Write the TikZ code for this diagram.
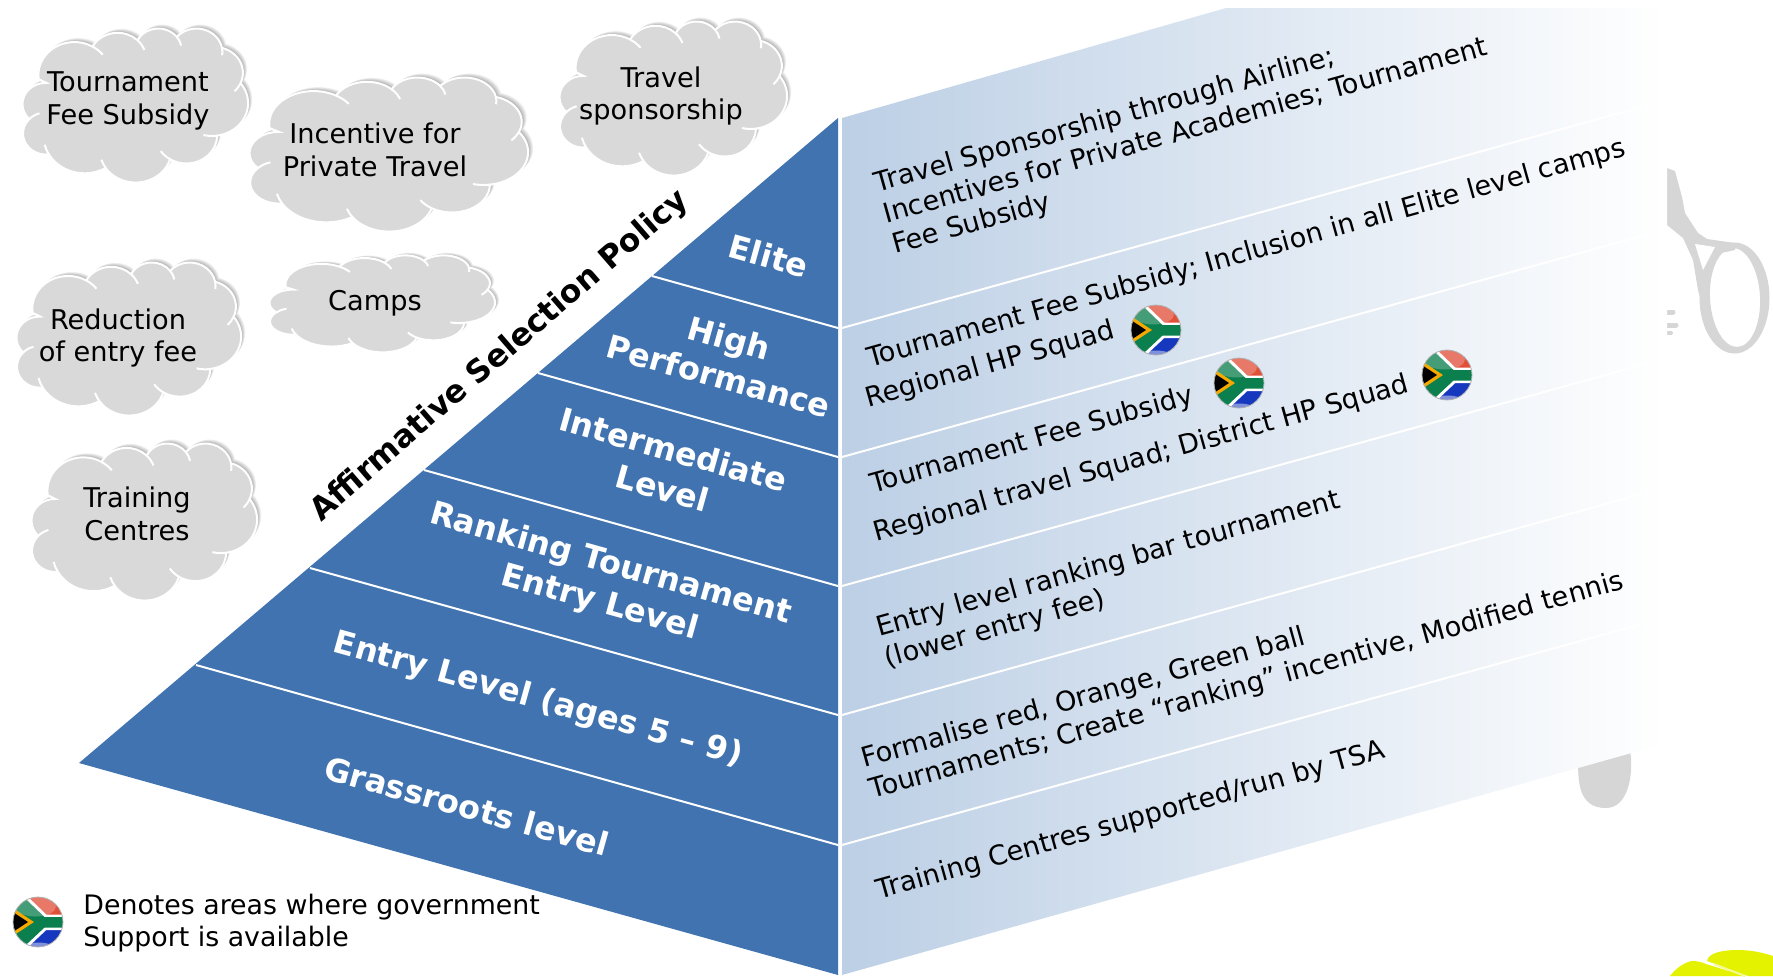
\documentclass[tikz,border=0pt]{standalone}
\usepackage{fontspec}
\setmainfont{DejaVu Sans}
\definecolor{pyr}{HTML}{4073B0}
\definecolor{panelL}{HTML}{BCCFE5}
\definecolor{panelM}{HTML}{E3EBF5}
\definecolor{cloudg}{HTML}{D9D9D9}
\definecolor{rack}{HTML}{D6D6D6}
\definecolor{ballY}{HTML}{E4F200}
\definecolor{fgreen}{HTML}{0B7F4E}
\definecolor{fred}{HTML}{E2503A}
\definecolor{fblue}{HTML}{1638BE}
\definecolor{fgold}{HTML}{F5A800}
\newcommand\mkarc[6]{% name, w,h, start, sweep, extension
  \pgfmathsetmacro\ts{atan2(#2*sin(#4),#3*cos(#4))}%
  \pgfmathsetmacro\te{atan2(#2*sin(#4+#5),#3*cos(#4+#5))}%
  \pgfmathsetmacro\td{mod(\te-\ts+720,360)}%
  \edef\tmp{\noexpand\tikzset{c#1/.style={start angle=\ts,delta angle=\td,x radius=#2pt,y radius=#3pt},
     x#1/.style={start angle=\te,delta angle=#6,x radius=#2pt,y radius=#3pt}}}\tmp}
\mkarc{A}{67.53}{91.90}{-190.487}{123.781}{22}
\mkarc{B}{53.33}{72.67}{-144.102}{89.945}{26}
\mkarc{C}{43.65}{59.45}{-145.808}{99.723}{26}
\mkarc{D}{48.57}{65.95}{-130.986}{117.242}{18}
\mkarc{E}{53.33}{72.73}{-78.709}{109.027}{22}
\mkarc{F}{67.75}{92.20}{-46.267}{130.269}{22}
\mkarc{G}{57.85}{78.67}{0.625}{114.033}{24}
\mkarc{H}{67.52}{92.15}{22.452}{115.173}{16}
\mkarc{I}{77.20}{105.43}{66.243}{75.711}{16}
\mkarc{J}{43.60}{59.18}{-274.942}{146.736}{30}
\newcommand\cloudshape{(39pt,143.7pt) arc[cA] coordinate(jA) arc[cB] coordinate(jB) arc[cC] coordinate(jC) arc[cD] coordinate(jD) arc[cE] coordinate(jE) arc[cF] coordinate(jF) arc[cG] coordinate(jG) arc[cH] coordinate(jH) arc[cI] coordinate(jI) arc[cJ] coordinate(jJ) arc[start angle=-225,delta angle=137,x radius=43.45pt,y radius=59.45pt] -- cycle}
\tikzset{
  cloudtext/.style={align=center,font=\fontsize{13.6}{16.4}\selectfont,text=black,inner sep=0pt},
  tiertext/.style={align=center,font=\fontsize{16}{20}\selectfont\bfseries,text=white,rotate=-15.6,inner sep=0pt},
  paneltext/.style={align=left,anchor=west,font=\fontsize{13.6}{16}\selectfont,text=black,rotate=15.6,inner sep=0pt},
  tierline/.style={draw=white,line width=1pt},
}
\newcommand\pptcloud[8]{% name,x0,y0,x1,y1,textx,texty,text
  \begin{scope}[shift={(#2,#3)},xscale={(#4-#2)*0.5/432},yscale={-(#5-#3)*0.5/432}]
    \foreach \o in {7,6,5,4,3,2,1}{\fill[black,opacity=.05,shift={(\o pt*1.1,-\o pt*1.6)}] \cloudshape;}
    \path[fill=cloudg,draw=white,line width=1pt] \cloudshape;
    \draw[white,line width=1pt] (jA) arc[xA] (jB) arc[xB] (jC) arc[xC] (jD) arc[xD] (jE) arc[xE] (jF) arc[xF] (jG) arc[xG] (jH) arc[xH] (jI) arc[xI] (jJ) arc[xJ];
  \end{scope}
  \node[cloudtext] (#1) at (#6,#7) {#8};
}
\newcommand\saflag[2]{%
  \begin{scope}[shift={(#1,#2)},x=12.5pt,y=-12.5pt]
    \begin{scope}
      \clip (0,0) circle (1);
      \fill[fred] (-1.1,-1.1) rectangle (1.1,0);
      \fill[fblue] (-1.1,0) rectangle (1.1,1.1);
      \fill[white] (-.5,-1.1) -- (.33,-.3) -- (1.1,-.3) -- (1.1,.32) -- (.33,.32) -- (-.5,1.1) -- (-1.1,1.1) -- (-1.1,-1.1) -- cycle;
      \fill[fgreen] (-.68,-1.1) -- (.26,-.2) -- (1.1,-.2) -- (1.1,.22) -- (.26,.22) -- (-.68,1.1) -- (-1.1,1.1) -- (-1.1,-1.1) -- cycle;
      \fill[fgold] (-1.1,-.62) -- (-.16,0) -- (-1.1,.62) -- cycle;
      \fill[black] (-1.1,-.46) -- (-.4,0) -- (-1.1,.46) -- cycle;
      \fill[white,opacity=.24] (-.1,-.62) ellipse (.82 and .4);
      \fill[white,opacity=.45] (0,1.1) ellipse (.72 and .28);
    \end{scope}
    \draw[black!30,line width=.4pt] (0,0) circle (1);
  \end{scope}}
\begin{document}
\begin{tikzpicture}[x=0.5pt,y=-0.5pt]
\useasboundingbox (0,0) rectangle (1773,976);
% racket and ball behind the panel
\fill[rack] (1604,740) -- (1630,750) .. controls (1634,775) and (1628,808) .. (1606,808) .. controls (1580,808) and (1576,785) .. (1579,750) -- cycle;
\fill[rack,line join=round] (1650,160) -- (1667,168) -- (1675,171) -- (1682,197) -- (1685,213) -- (1698,233) -- (1707,239) -- (1735,243) -- (1735,250) -- (1712,255) -- (1702,305) -- (1698,290) -- (1693,260) -- (1683,238) -- (1667,225) -- (1650,210) -- cycle;
\fill[white] (1695,244) -- (1715,247) -- (1703,270) -- cycle;
\fill[rack,even odd rule] (1734.5,298) ellipse [x radius=35,y radius=55.5]
  [rotate around={3:(1735,297.5)}] (1735,297.5) ellipse [x radius=25,y radius=49.5];
\draw[rack,line width=2.5pt,line cap=round] (1660,312) -- (1673,312);
\draw[rack,line width=2.5pt,line cap=round] (1660,325) -- (1676,325);
\draw[rack,line width=2pt,line cap=round] (1660,333) -- (1671,333);
\fill[ballY] (1670,976) .. controls (1676,968) and (1685,962) .. (1692,961) .. controls (1697,961) and (1702,962) .. (1706,964) -- (1745,976) -- cycle;
\fill[ballY] (1707,961) .. controls (1708,953) and (1722,950) .. (1738,950) .. controls (1752,950) and (1764,953) .. (1773,956) -- (1773,976) -- (1748,976) -- cycle;
\draw[ballY!45!white,line width=1pt] (1714,964) -- (1745,976);
% right panel
\shade[left color=panelL,middle color=panelM,right color=white] (842,118) -- (1226,8) -- (1667,8) -- (1667,743) -- (842,975) -- cycle;
\coordinate (rA) at (842,328); \coordinate (rAe) at (1667,100);
\coordinate (rB) at (842,457); \coordinate (rBe) at (1667,229);
\coordinate (rC) at (842,586); \coordinate (rCe) at (1667,358);
\coordinate (rD) at (842,715); \coordinate (rDe) at (1667,487);
\coordinate (rE) at (842,845); \coordinate (rEe) at (1667,617);
\foreach \p in {A,B,C,D,E}{\draw[tierline] (r\p) -- (r\p e);}
% pyramid
\fill[pyr] (838,118) -- (838,975) -- (79,763) -- cycle;
\coordinate (lA) at (652,276); \coordinate (eA) at (838,328);
\coordinate (lB) at (538,373); \coordinate (eB) at (838,457);
\coordinate (lC) at (424,470); \coordinate (eC) at (838,586);
\coordinate (lD) at (310,568); \coordinate (eD) at (838,715);
\coordinate (lE) at (196,665); \coordinate (eE) at (838,845);
\foreach \p in {A,B,C,D,E}{\draw[tierline] (l\p) -- (e\p);}
% tier labels
\node[tiertext] (tElite) at (769,256) {Elite};
\node[tiertext] (tHigh) at (724,357) {High\\Performance};
\node[tiertext] (tInter) at (668,469) {Intermediate\\Level};
\node[tiertext] (tRank) at (605,584) {Ranking Tournament\\Entry Level};
\node[tiertext] (tEntry) at (538,700) {Entry Level (ages 5 – 9)};
\node[tiertext] (tGrass) at (467,806) {Grassroots level};
\node[rotate=40.9,font=\fontsize{15.7}{18}\selectfont\bfseries,inner sep=0pt] (policy) at (500,356) {Affirmative Selection Policy};
% clouds
\pptcloud{cTour}{18}{28}{248}{182}{128}{101}{Tournament\\Fee Subsidy}
\pptcloud{cInc}{244}{77}{528}{231}{375}{150}{Incentive for\\Private Travel}
\pptcloud{cTrav}{555}{21}{787}{175}{661}{96}{Travel\\sponsorship}
\pptcloud{cRed}{12}{262}{241}{415}{118}{338}{Reduction\\of entry fee}
\pptcloud{cCamp}{265}{255}{495}{352}{375}{303}{Camps}
\pptcloud{cTrain}{27}{443}{257}{600}{137}{514}{Training\\Centres}
% panel text
\node[paneltext] (p1) at (884,216) {Travel Sponsorship through Airline;\\Incentives for Private Academies; Tournament\\Fee Subsidy};
\node[paneltext] (p2a) at (868,360) {Tournament Fee Subsidy; Inclusion in all Elite level camps};
\node[paneltext] (p2b) at (866,400) {Regional HP Squad};
\node[paneltext] (p3a) at (871,486) {Tournament Fee Subsidy};
\node[paneltext] (p3b) at (874,534) {Regional travel Squad; District HP Squad};
\node[paneltext] (p4) at (881,645) {Entry level ranking bar tournament\\(lower entry fee)};
\node[paneltext] (p5) at (866,776) {Formalise red, Orange, Green ball\\Tournaments; Create “ranking” incentive, Modified tennis};
\node[paneltext] (p6) at (877,892) {Training Centres supported/run by TSA};
% flags
\saflag{1156}{330}
\saflag{1239}{383}
\saflag{1447}{375}
\saflag{38}{922}
\node[align=left,anchor=west,inner sep=0pt,font=\fontsize{13.4}{16.4}\selectfont] (legend) at (83,923) {Denotes areas where government\\Support is available};
\end{tikzpicture}
\end{document}
